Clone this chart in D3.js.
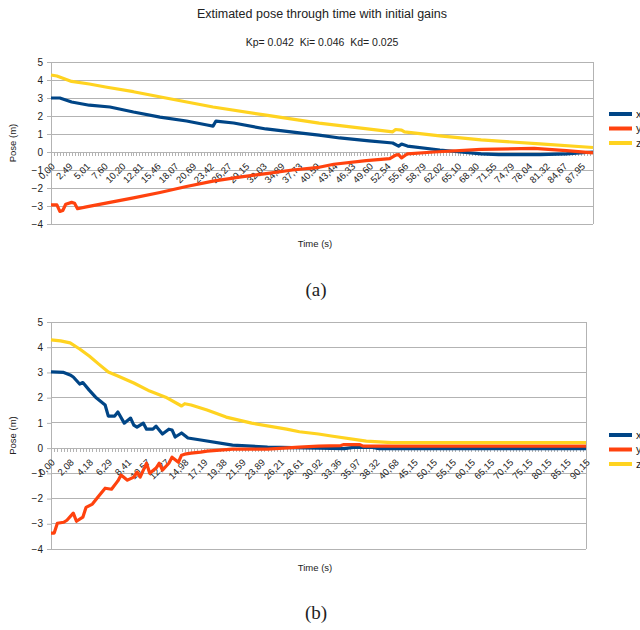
<!DOCTYPE html>
<html><head><meta charset="utf-8">
<script src="https://cdn.jsdelivr.net/npm/d3@7"></script>
<style>
body{margin:0;background:#fff}
svg{display:block}
text{font-family:"Liberation Sans",Arial,sans-serif;fill:#222}
</style>
</head><body><svg id="c" width="640" height="630"></svg>
<script>
// ---------- data ----------
const titleText = "Extimated pose through time with initial gains";
const subtitleText = "Kp= 0.042  Ki= 0.046  Kd= 0.025";
const yTickValues = [5,4,3,2,1,0,-1,-2,-3,-4];
const seriesNames = ["x","y","z"];
const seriesColors = ["#004586","#ff420e","#ffd320"];
const labelStep = 6;
const samplesA = 185;
const samplesB = 169;
const timeLabelsA = ["0,00","2,49","5,01","7,60","10,20","12,81","15,46","18,07","20,69","23,42","26,27","29,15","32,03","34,89","37,73","40,59","43,44","46,33","49,60","52,54","55,66","58,79","62,02","65,10","68,30","71,55","74,79","78,04","81,32","84,67","87,95"];
const timeLabelsB = ["0,00","2,08","4,18","6,29","8,41","10,57","12,77","14,98","17,19","19,38","21,59","23,89","26,21","28,61","30,92","33,36","35,97","38,32","40,68","45,15","50,15","55,15","60,15","65,15","70,15","75,15","80,15","85,15","90,15"];
// [sample index, pose (m)]
const poseXA = [[0,3.0],[3,3.0],[7,2.78],[13,2.6],[20,2.5],[28,2.22],[37,1.94],[46,1.72],[53,1.5],[55,1.44],[56,1.72],[62,1.61],[73,1.28],[85,1.05],[91,0.94],[98,0.78],[108,0.62],[116,0.5],[118,0.33],[119,0.44],[121,0.33],[132,0.11],[146,-0.1],[152,-0.15],[166,-0.15],[175,-0.1],[184,0.0]];
const poseYA = [[0,-2.94],[2,-2.94],[3,-3.3],[4,-3.25],[5,-2.9],[7,-2.8],[8,-2.85],[9,-3.15],[12,-3.05],[20,-2.8],[28,-2.55],[37,-2.25],[46,-1.92],[55,-1.62],[64,-1.4],[73,-1.2],[82,-1.0],[91,-0.85],[96,-0.68],[107,-0.48],[115,-0.37],[117,-0.17],[118,-0.15],[119,-0.33],[121,-0.1],[130,0.0],[146,0.15],[164,0.2],[175,0.08],[184,-0.05]];
const poseZA = [[0,4.28],[2,4.22],[7,3.92],[13,3.78],[19,3.6],[28,3.35],[39,3.0],[55,2.5],[73,2.05],[91,1.6],[116,1.12],[117,1.25],[119,1.22],[120,1.12],[132,0.9],[146,0.67],[166,0.45],[184,0.25]];
const poseXB = [[0,3.02],[4,3.0],[6,2.9],[7,2.82],[9,2.54],[10,2.6],[12,2.3],[14,2.02],[17,1.71],[18,1.27],[20,1.27],[21,1.43],[23,0.99],[25,1.19],[26,0.91],[27,0.83],[29,0.99],[30,0.75],[32,0.75],[33,0.87],[35,0.56],[37,0.75],[38,0.72],[39,0.44],[41,0.6],[43,0.4],[47,0.32],[57,0.12],[68,0.04],[84,0.0],[92,-0.02],[95,0.03],[101,0.03],[103,-0.02],[168,-0.02]];
const poseYB = [[0,-3.37],[1,-3.37],[2,-2.98],[4,-2.94],[5,-2.86],[7,-2.58],[8,-2.9],[10,-2.74],[11,-2.35],[13,-2.22],[15,-1.9],[17,-1.59],[19,-1.63],[21,-1.3],[22,-1.07],[24,-1.27],[26,-1.15],[27,-0.95],[28,-1.15],[29,-0.87],[30,-0.6],[31,-1.0],[33,-0.79],[34,-0.6],[35,-0.87],[37,-0.6],[38,-0.36],[40,-0.56],[41,-0.28],[42,-0.24],[44,-0.2],[47,-0.16],[49,-0.12],[57,-0.04],[68,-0.04],[78,0.04],[84,0.08],[91,0.1],[92,0.14],[97,0.14],[98,0.08],[168,0.08]];
const poseZB = [[0,4.29],[3,4.25],[6,4.17],[9,3.93],[12,3.65],[15,3.33],[18,3.02],[21,2.86],[26,2.58],[31,2.26],[36,2.02],[41,1.67],[42,1.76],[44,1.71],[49,1.51],[55,1.23],[63,0.99],[74,0.75],[78,0.65],[84,0.56],[88,0.48],[99,0.28],[107,0.22],[168,0.22]];

// ---------- drawing ----------
const svg = d3.select("#c");
const grid = "#b3b3b3";

svg.append("text").attr("x",322).attr("y",18).attr("text-anchor","middle")
  .style("font-size","12.5px").text(titleText);
svg.append("text").attr("x",322).attr("y",46).attr("text-anchor","middle")
  .style("font-size","10.5px").style("white-space","pre").attr("xml:space","preserve").text(subtitleText);

function panel(cfg){
  const g = svg.append("g");
  const x = d3.scaleLinear().domain([0,cfg.samples-1]).range([cfg.left,cfg.right]);
  const y = d3.scaleLinear().domain([-4,5]).range([cfg.bottom,cfg.top]);

  // y axis with gridlines
  const ya = g.append("g").attr("transform",`translate(${cfg.left},0)`)
    .call(d3.axisLeft(y).tickValues(yTickValues).tickSize(4).tickPadding(4).tickFormat(d3.format("d")));
  ya.select(".domain").attr("stroke",grid);
  ya.selectAll(".tick line").attr("stroke",grid);
  ya.selectAll(".tick text").style("font-size","10px").attr("fill","#222").style("font-family","Liberation Sans, Arial, sans-serif");
  g.append("g").selectAll("line").data(yTickValues).join("line")
    .attr("x1",cfg.left).attr("x2",cfg.right).attr("y1",d=>y(d)).attr("y2",d=>y(d))
    .attr("stroke",grid).attr("stroke-width",1).attr("shape-rendering","crispEdges");
  g.append("line").attr("x1",cfg.right).attr("x2",cfg.right).attr("y1",cfg.top).attr("y2",cfg.bottom)
    .attr("stroke",grid).attr("shape-rendering","crispEdges");

  // x axis crossing at 0
  const xa = g.append("g").attr("transform",`translate(0,${y(0)})`)
    .call(d3.axisBottom(x).tickValues(d3.range(cfg.samples)).tickSize(4).tickFormat(""));
  xa.select(".domain").remove();
  xa.selectAll(".tick line").attr("stroke",grid).attr("shape-rendering","crispEdges");
  const labelIdx = cfg.labels.map((_,i)=>i*labelStep);
  const xl = g.append("g").attr("transform",`translate(0,${y(0)})`)
    .call(d3.axisBottom(x).tickValues(labelIdx).tickSize(0).tickFormat((d,i)=>cfg.labels[i]));
  xl.select(".domain").remove();
  xl.selectAll(".tick text").attr("y",null).attr("dy",null)
    .attr("transform","translate(4,15) rotate(-45)").attr("text-anchor","end")
    .style("font-size","9.5px").attr("fill","#222").style("font-family","Liberation Sans, Arial, sans-serif");

  // series
  const line = d3.line().x(d=>x(d[0])).y(d=>y(d[1]));
  cfg.series.forEach((s,i)=>{
    g.append("path").datum(s).attr("d",line).attr("fill","none")
      .attr("stroke",seriesColors[i]).attr("stroke-width",3.2)
      .attr("stroke-linejoin","round").attr("stroke-linecap","butt");
  });

  // axis titles
  g.append("text").attr("transform",`translate(16,${(cfg.top+cfg.bottom)/2}) rotate(-90)`)
    .attr("text-anchor","middle").style("font-size","9.5px").text("Pose (m)");
  g.append("text").attr("x",315).attr("y",cfg.timeY).attr("text-anchor","middle")
    .style("font-size","9.5px").text("Time (s)");
  g.append("text").attr("x",316).attr("y",cfg.capY).attr("text-anchor","middle")
    .style("font-family","Liberation Serif, Times New Roman, serif").style("font-size","19px").attr("fill","#000").text(cfg.caption);

  // legend
  const lg = g.append("g").selectAll("g").data(seriesNames).join("g")
    .attr("transform",(d,i)=>`translate(609,${cfg.legY + i*14.5})`);
  lg.append("line").attr("x1",0).attr("x2",23).attr("stroke",(d,i)=>seriesColors[i]).attr("stroke-width",4);
  lg.append("text").attr("x",27).attr("dy","0.35em").style("font-size","11px").text(d=>d);
}

panel({left:51,right:593,top:62,bottom:224,samples:samplesA,labels:timeLabelsA,
  series:[poseXA,poseYA,poseZA],timeY:247,capY:296,caption:"(a)",legY:114});
panel({left:51,right:586,top:322,bottom:549,samples:samplesB,labels:timeLabelsB,
  series:[poseXB,poseYB,poseZB],timeY:571,capY:619,caption:"(b)",legY:435});
</script>
</body></html>
